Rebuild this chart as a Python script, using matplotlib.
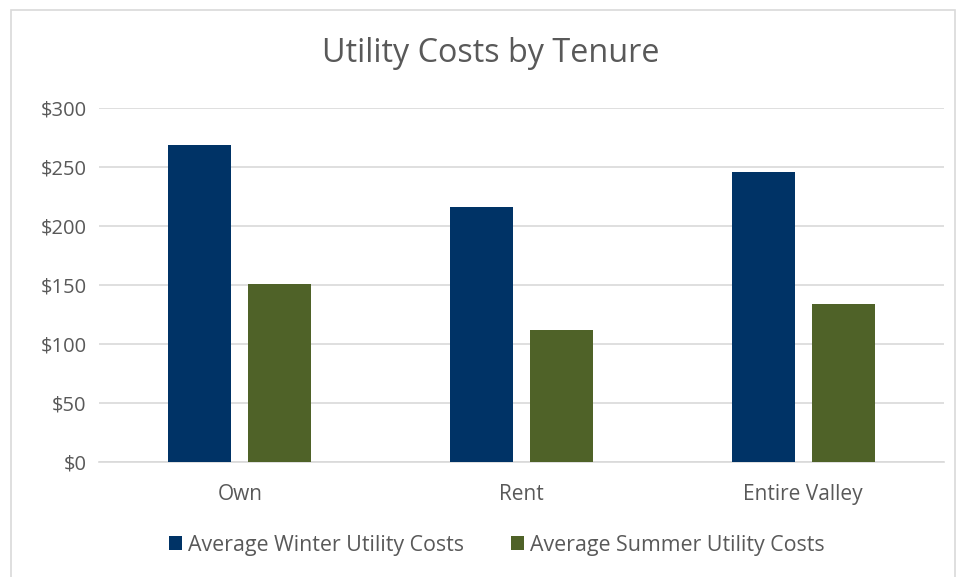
import numpy as np
import matplotlib
matplotlib.use("Agg")
import matplotlib.pyplot as plt
from matplotlib.patches import Rectangle

categories = ["Own", "Rent", "Entire Valley"]
winter = [269, 216, 246]
summer = [151, 112, 134]
series_names = ["Average Winter Utility Costs", "Average Summer Utility Costs"]
yticks = [0, 50, 100, 150, 200, 250, 300]

NAVY = "#003366"
OLIVE = "#4F6228"
TXT = "#595959"

plt.rcParams["font.family"] = ["Open Sans", "DejaVu Sans"]

fig = plt.figure(figsize=(9.58, 5.77), dpi=100)
ax = fig.add_axes([99 / 958, 1 - 462 / 577, 845 / 958, 354 / 577])

# chart border
fig.patches.append(Rectangle((11 / 958, -0.05), 944 / 958, 1 - 10 / 577 + 0.05,
                             transform=fig.transFigure, fill=False,
                             edgecolor="#D9D9D9", lw=1.2))

x = np.arange(len(categories))
w = 0.224
off = 0.142
ax.bar(x - off, winter, w, color=NAVY, label=series_names[0], zorder=3)
ax.bar(x + off, summer, w, color=OLIVE, label=series_names[1], zorder=3)

ax.set_xlim(-0.5, 2.5)
ax.set_ylim(0, 300)
ax.set_yticks(yticks)
ax.set_yticklabels([f"${v}" for v in yticks])
ax.set_xticks(x)
ax.set_xticklabels(categories)
ax.tick_params(axis="y", length=0, labelsize=14.5, colors=TXT, pad=9)
ax.tick_params(axis="x", length=0, labelsize=15, colors=TXT, pad=16)
ax.grid(axis="y", color="#D9D9D9", lw=1.2, zorder=0)
for s in ("top", "right", "left"):
    ax.spines[s].set_visible(False)
ax.spines["bottom"].set_color("#D9D9D9")
ax.spines["bottom"].set_linewidth(1.2)

fig.text(491 / 958, 1 - 53 / 577, "Utility Costs by Tenure", ha="center",
         va="center", fontsize=23.3, color=TXT)

fig.legend(loc="center", bbox_to_anchor=(497 / 958, 1 - 545 / 577), ncol=2,
           frameon=False, fontsize=15.4, labelcolor=TXT, handlelength=0.6,
           handleheight=0.6, handletextpad=0.3, columnspacing=2.2)

fig.savefig("out.png", dpi=100)
